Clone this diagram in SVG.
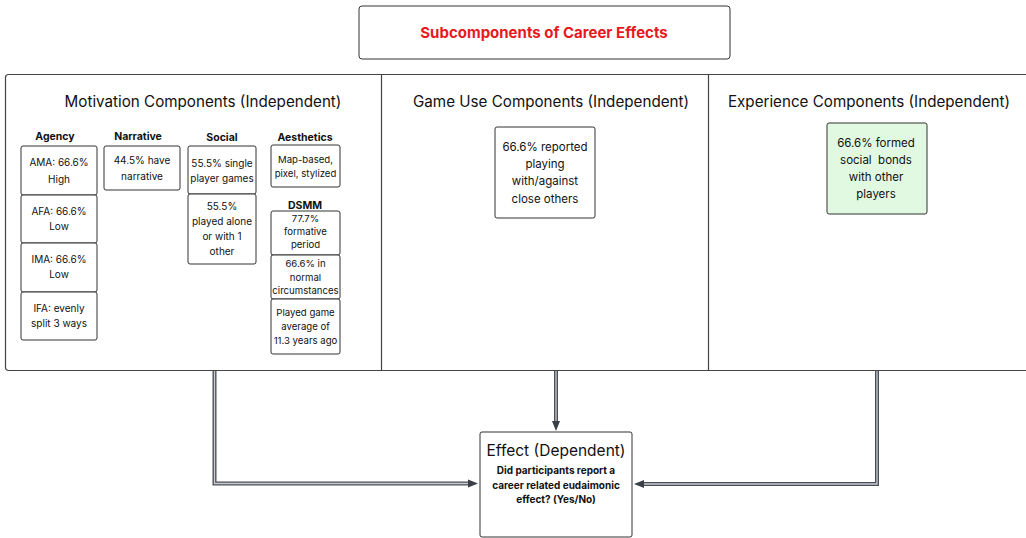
<svg xmlns="http://www.w3.org/2000/svg" width="1026" height="538" viewBox="0 0 1026 538">
<style>
text{font-family:Inter,"Liberation Sans",sans-serif;fill:#111;text-anchor:middle}
.box{fill:#fff;stroke:#333;stroke-width:1}
.frame{fill:#fff;stroke:#444;stroke-width:1.2}
.h{font-size:15.2px}
.sh{font-size:10.5px;font-weight:bold}
.t{font-size:10px}
.s{font-size:9.6px}
.m{font-size:11.5px}
.outer{fill:none;stroke:#4a4f57;stroke-width:4}
.inner{fill:none;stroke:#c9cdd3;stroke-width:1.3}
.arr{fill:#3a3f47}
</style>
<rect width="1026" height="538" fill="#fff"/>
<g id="title">
<rect x="359" y="6" width="371" height="53" rx="3" class="box"/>
<text x="544" y="38" style="font-size:15px;font-weight:bold;fill:#e8191e">Subcomponents of Career Effects</text>
</g>
<g id="frame">
<rect x="5.5" y="74.5" width="1030" height="296" rx="3" class="frame"/>
<line x1="381.5" y1="74.5" x2="381.5" y2="370.5" stroke="#444" stroke-width="1.2"/>
<line x1="708.5" y1="74.5" x2="708.5" y2="370.5" stroke="#444" stroke-width="1.2"/>
</g>
<g id="connectors">
<path d="M214.5,371 V483.5 H470" class="outer"/>
<path d="M214.5,371 V483.5 H470" class="inner"/>
<path d="M556,371 V422" class="outer"/>
<path d="M556,371 V422" class="inner"/>
<path d="M877,371 V484 H642" class="outer"/>
<path d="M877,371 V484 H642" class="inner"/>
<path d="M478,483.5 l-10,-4 v8 Z" class="arr"/>
<path d="M556,431 l-4,-10 h8 Z" class="arr"/>
<path d="M634,484 l10,-4 v8 Z" class="arr"/>
</g>
<g id="motivation">
<text x="203" y="107" class="h">Motivation Components (Independent)</text>
</g>
<g id="agency">
<text x="55" y="140" class="sh">Agency</text>
<rect x="21" y="146" width="76" height="49" rx="2" class="box"/>
<text x="59" y="166" class="t">AMA: 66.6%</text>
<text x="59" y="183" class="t">High</text>
<rect x="21" y="195" width="76" height="48" rx="2" class="box"/>
<text x="59" y="215" class="t">AFA: 66.6%</text>
<text x="59" y="230" class="t">Low</text>
<rect x="21" y="243" width="76" height="49" rx="2" class="box"/>
<text x="59" y="263" class="t">IMA: 66.6%</text>
<text x="59" y="278" class="t">Low</text>
<rect x="21" y="292" width="76" height="48" rx="2" class="box"/>
<text x="59" y="312" class="t">IFA: evenly</text>
<text x="59" y="327" class="t">split 3 ways</text>
</g>
<g id="narrative">
<text x="138" y="140" class="sh">Narrative</text>
<rect x="104" y="146" width="76" height="44" rx="2" class="box"/>
<text x="142" y="164" class="t">44.5% have</text>
<text x="142" y="180" class="t">narrative</text>
</g>
<g id="social">
<text x="222" y="141" class="sh">Social</text>
<rect x="188" y="146" width="68" height="48" rx="2" class="box"/>
<text x="222" y="167" class="t">55.5% single</text>
<text x="222" y="182" class="t">player games</text>
<rect x="188" y="194" width="68" height="70" rx="2" class="box"/>
<text x="222" y="210" class="t">55.5%</text>
<text x="222" y="225" class="t">played alone</text>
<text x="222" y="240" class="t">or with 1</text>
<text x="222" y="255" class="t">other</text>
</g>
<g id="aesthetics">
<text x="305" y="141" class="sh">Aesthetics</text>
<rect x="271" y="145" width="69" height="42" rx="2" class="box"/>
<text x="305.5" y="163" class="s">Map-based,</text>
<text x="305.5" y="177" class="s">pixel, stylized</text>
</g>
<g id="dsmm">
<text x="305" y="209" class="sh">DSMM</text>
<rect x="271" y="211" width="69" height="44" rx="2" class="box"/>
<text x="305.5" y="222" class="s">77.7%</text>
<text x="305.5" y="235" class="s">formative</text>
<text x="305.5" y="248" class="s">period</text>
<rect x="271" y="255" width="69" height="44" rx="2" class="box"/>
<text x="305.5" y="267" class="s">66.6% in</text>
<text x="305.5" y="281" class="s">normal</text>
<text x="305.5" y="294" class="s">circumstances</text>
<rect x="271" y="299" width="69" height="55" rx="2" class="box"/>
<text x="305.5" y="316" class="s">Played game</text>
<text x="305.5" y="330" class="s">average of</text>
<text x="305.5" y="344" class="s">11.3 years ago</text>
</g>
<g id="gameuse">
<text x="551" y="107" class="h">Game Use Components (Independent)</text>
<rect x="495" y="127" width="100" height="91" rx="2" class="box"/>
<text x="545" y="151" class="m">66.6% reported</text>
<text x="545" y="168" class="m">playing</text>
<text x="545" y="185" class="m">with/against</text>
<text x="545" y="203" class="m">close others</text>
</g>
<g id="experience">
<text x="869" y="107" class="h">Experience Components (Independent)</text>
<rect x="827" y="123" width="100" height="91" rx="2" fill="#e1f8e1" stroke="#333" stroke-width="1"/>
<text x="876" y="147" class="m">66.6% formed</text>
<text x="876" y="164" class="m">social&#160; bonds</text>
<text x="876" y="181" class="m">with other</text>
<text x="876" y="198" class="m">players</text>
</g>
<g id="effect">
<rect x="480" y="432" width="152" height="105" rx="2" class="box"/>
<text x="556" y="456" style="font-size:15.5px">Effect (Dependent)</text>
<text x="556" y="474" style="font-size:10px;font-weight:bold">Did participants report a</text>
<text x="556" y="489" style="font-size:10px;font-weight:bold">career related eudaimonic</text>
<text x="556" y="503" style="font-size:10px;font-weight:bold">effect? (Yes/No)</text>
</g>
</svg>
